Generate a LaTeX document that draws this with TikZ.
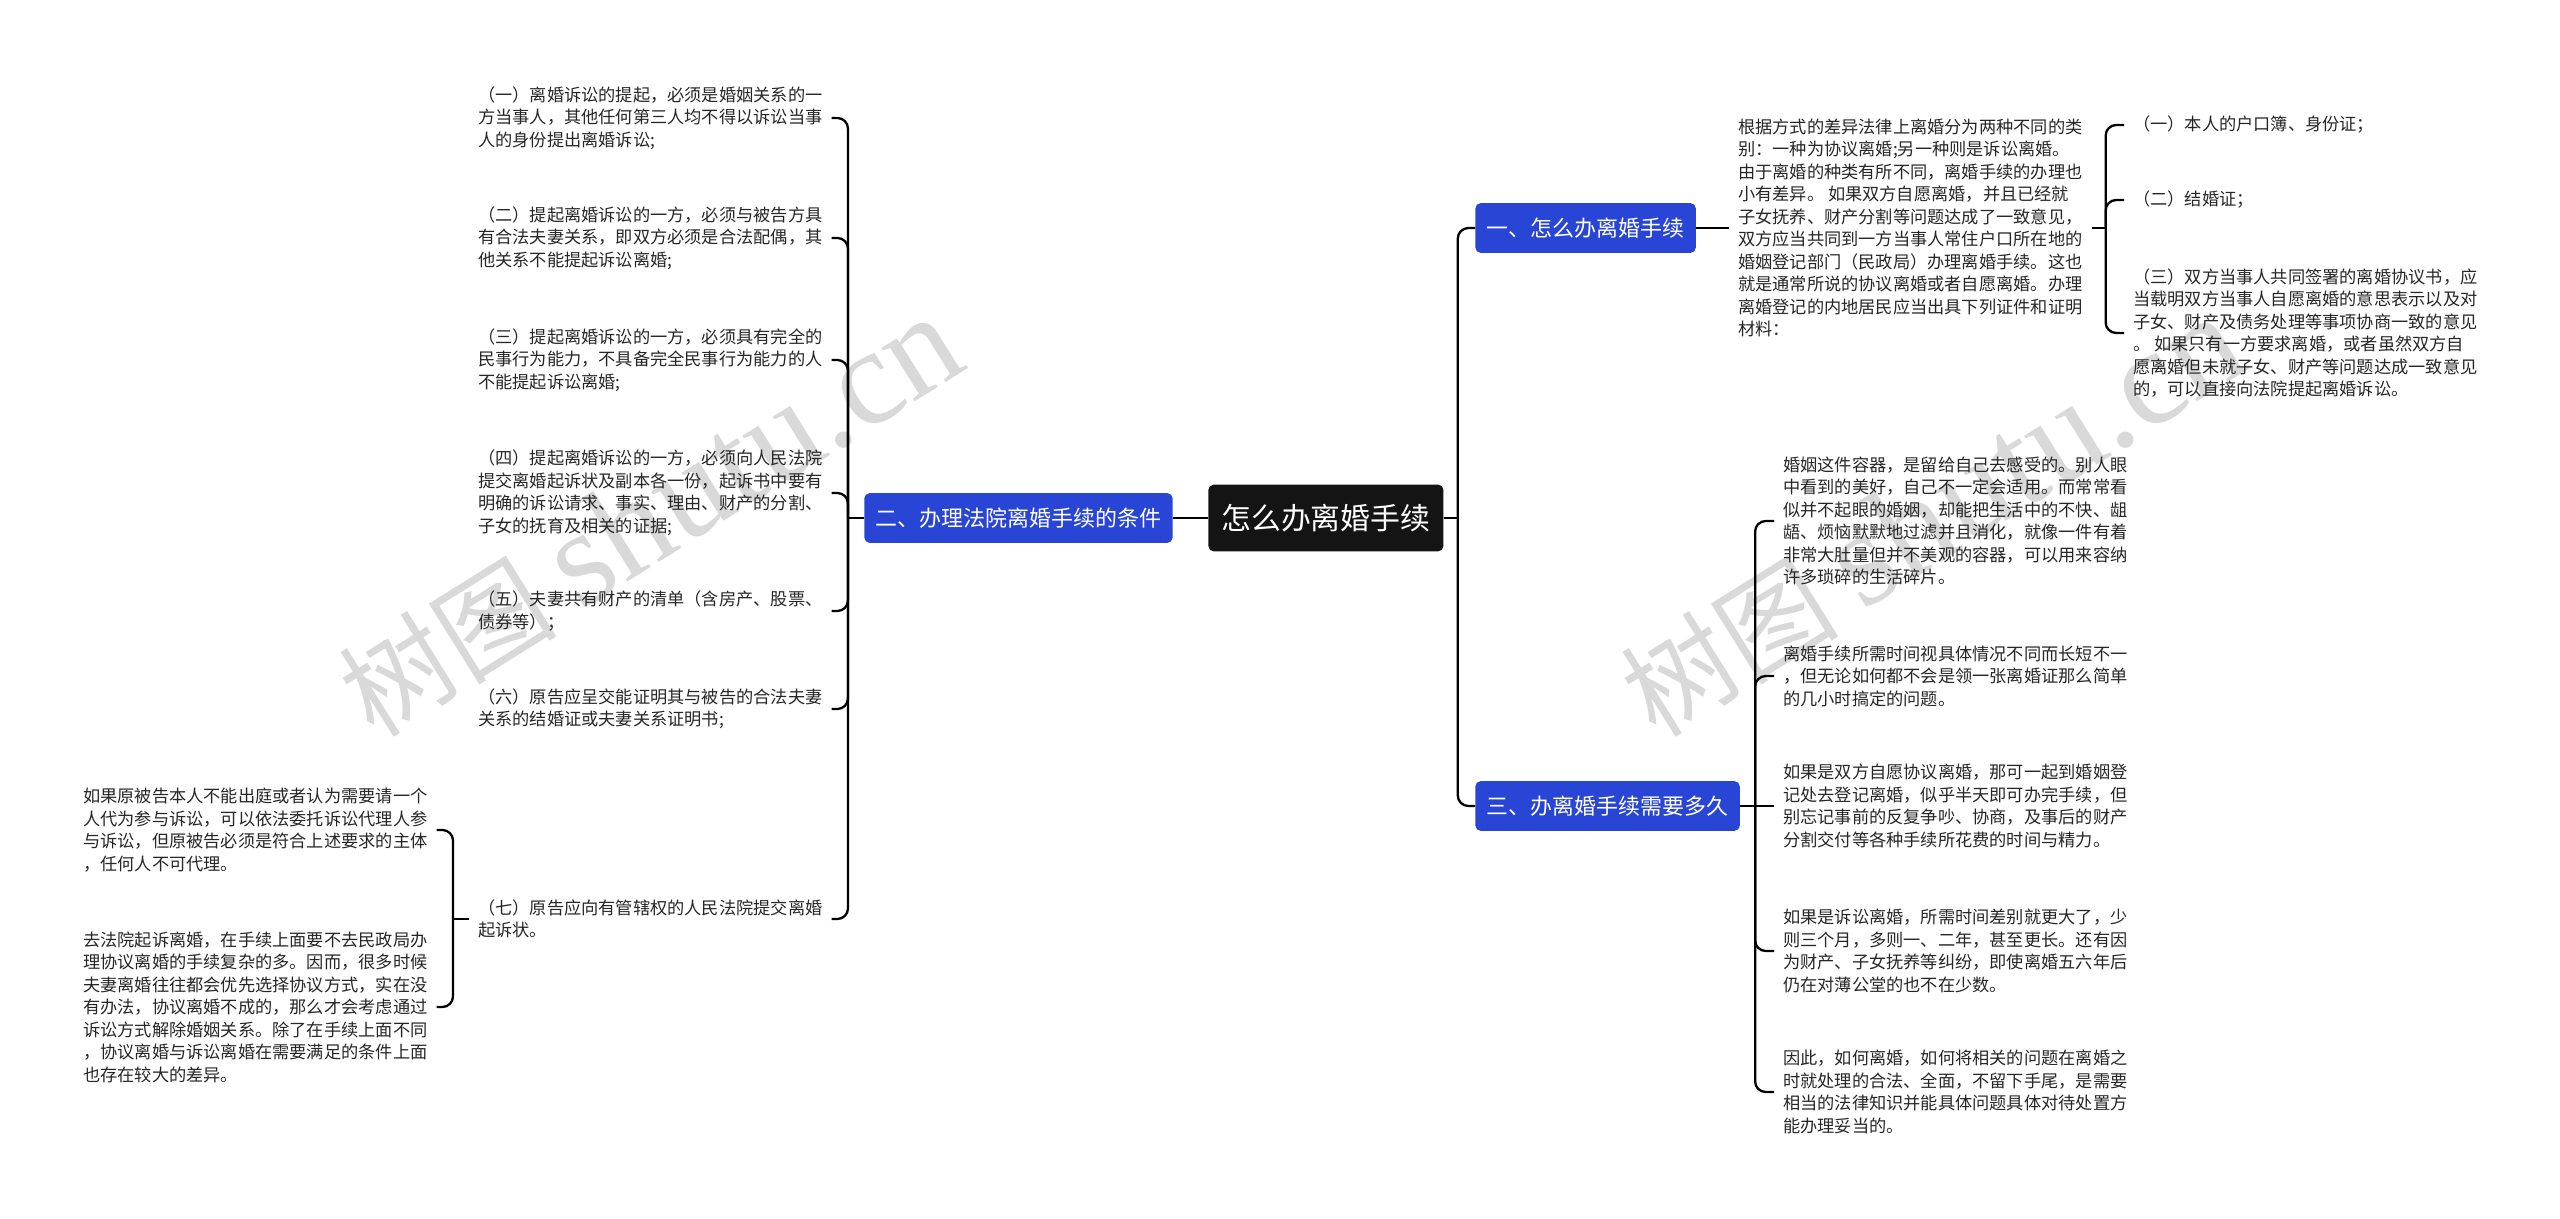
\documentclass[tikz,border=0pt]{standalone}
\usepackage{fontspec}
\setmainfont{Noto Sans CJK SC}
\newfontfamily\wmlatin{Liberation Serif}
\usepackage{tikz}
\usetikzlibrary{positioning, calc}
\definecolor{topicblue}{RGB}{41,69,214}
\definecolor{rootdark}{RGB}{20,20,20}

\begin{document}
\begin{tikzpicture}[x=0.02cm, y=-0.02cm,
    rootbox/.style={fill=rootdark, text=white, rounded corners=3pt, minimum height=38pt, inner xsep=7.4pt, font=\fontsize{17pt}{20pt}\selectfont},
    topic/.style={fill=topicblue, text=white, rounded corners=3pt, minimum height=28.3pt, inner xsep=6.5pt, font=\fontsize{12.5pt}{15pt}\selectfont},
    leaf/.style={align=left, inner xsep=5pt, inner ysep=2pt, text=black!85, font=\fontsize{9.8pt}{12.8pt}\selectfont},
    link/.style={line width=1.3pt, rounded corners=6pt},
    wm/.style={text=black!15, rotate=32, font=\fontsize{62pt}{62pt}\selectfont}
]
\useasboundingbox (0,0) rectangle (2560,1219);

% watermark
\node[wm] (wm1) at (650,517) {树图 {\wmlatin\fontsize{78pt}{78pt}\selectfont shutu.cn}};
\node[wm] (wm2) at (1932,517) {树图 {\wmlatin\fontsize{78pt}{78pt}\selectfont shutu.cn}};

% centre and topics
\node[rootbox, anchor=west] (root) at (1208,518) {怎么办离婚手续};
\node[topic, anchor=east] (b2) at (1173,518) {二、办理法院离婚手续的条件};
\node[topic, anchor=west] (b1) at (1475,228) {一、怎么办离婚手续};
\node[topic, anchor=west] (b3) at (1475,806) {三、办离婚手续需要多久};

% left leaves
\node[leaf, anchor=west] (c1) at (469,118) {（一）离婚诉讼的提起，必须是婚姻关系的一\\方当事人，其他任何第三人均不得以诉讼当事\\人的身份提出离婚诉讼;};
\node[leaf, anchor=west] (c2) at (469,238) {（二）提起离婚诉讼的一方，必须与被告方具\\有合法夫妻关系，即双方必须是合法配偶，其\\他关系不能提起诉讼离婚;};
\node[leaf, anchor=west] (c3) at (469,360) {（三）提起离婚诉讼的一方，必须具有完全的\\民事行为能力，不具备完全民事行为能力的人\\不能提起诉讼离婚;};
\node[leaf, anchor=west] (c4) at (469,493) {（四）提起离婚诉讼的一方，必须向人民法院\\提交离婚起诉状及副本各一份，起诉书中要有\\明确的诉讼请求、事实、理由、财产的分割、\\子女的抚育及相关的证据;};
\node[leaf, anchor=west] (c5) at (469,611) {（五）夫妻共有财产的清单（含房产、股票、\\债券等）；};
\node[leaf, anchor=west] (c6) at (469,709) {（六）原告应呈交能证明其与被告的合法夫妻\\关系的结婚证或夫妻关系证明书;};
\node[leaf, anchor=west] (c7) at (469,919) {（七）原告应向有管辖权的人民法院提交离婚\\起诉状。};
\node[leaf, anchor=west] (g1) at (74,830) {如果原被告本人不能出庭或者认为需要请一个\\人代为参与诉讼，可以依法委托诉讼代理人参\\与诉讼，但原被告必须是符合上述要求的主体\\，任何人不可代理。};
\node[leaf, anchor=west] (g2) at (74,1007) {去法院起诉离婚，在手续上面要不去民政局办\\理协议离婚的手续复杂的多。因而，很多时候\\夫妻离婚往往都会优先选择协议方式，实在没\\有办法，协议离婚不成的，那么才会考虑通过\\诉讼方式解除婚姻关系。除了在手续上面不同\\，协议离婚与诉讼离婚在需要满足的条件上面\\也存在较大的差异。};

% right leaves
\node[leaf, anchor=west] (t1) at (1729,228) {根据方式的差异法律上离婚分为两种不同的类\\别：一种为协议离婚;另一种则是诉讼离婚。\\由于离婚的种类有所不同，离婚手续的办理也\\小有差异。 如果双方自愿离婚，并且已经就\\子女抚养、财产分割等问题达成了一致意见，\\双方应当共同到一方当事人常住户口所在地的\\婚姻登记部门（民政局）办理离婚手续。这也\\就是通常所说的协议离婚或者自愿离婚。办理\\离婚登记的内地居民应当出具下列证件和证明\\材料：};
\node[leaf, anchor=west] (k1) at (2124,125) {（一）本人的户口簿、身份证；};
\node[leaf, anchor=west] (k2) at (2124,200) {（二）结婚证；};
\node[leaf, anchor=west] (k3) at (2124,333) {（三）双方当事人共同签署的离婚协议书，应\\当载明双方当事人自愿离婚的意思表示以及对\\子女、财产及债务处理等事项协商一致的意见\\。 如果只有一方要求离婚，或者虽然双方自\\愿离婚但未就子女、财产等问题达成一致意见\\的，可以直接向法院提起离婚诉讼。};
\node[leaf, anchor=west] (r1) at (1774,521) {婚姻这件容器，是留给自己去感受的。别人眼\\中看到的美好，自己不一定会适用。而常常看\\似并不起眼的婚姻，却能把生活中的不快、龃\\龉、烦恼默默地过滤并且消化，就像一件有着\\非常大肚量但并不美观的容器，可以用来容纳\\许多琐碎的生活碎片。};
\node[leaf, anchor=west] (r2) at (1774,676) {离婚手续所需时间视具体情况不同而长短不一\\，但无论如何都不会是领一张离婚证那么简单\\的几小时搞定的问题。};
\node[leaf, anchor=west] (r3) at (1774,806) {如果是双方自愿协议离婚，那可一起到婚姻登\\记处去登记离婚，似乎半天即可办完手续，但\\别忘记事前的反复争吵、协商，及事后的财产\\分割交付等各种手续所花费的时间与精力。};
\node[leaf, anchor=west] (r4) at (1774,951) {如果是诉讼离婚，所需时间差别就更大了，少\\则三个月，多则一、二年，甚至更长。还有因\\为财产、子女抚养等纠纷，即使离婚五六年后\\仍在对薄公堂的也不在少数。};
\node[leaf, anchor=west] (r5) at (1774,1092) {因此，如何离婚，如何将相关的问题在离婚之\\时就处理的合法、全面，不留下手尾，是需要\\相当的法律知识并能具体问题具体对待处置方\\能办理妥当的。};

% junctions
\coordinate (lj) at ([shift={(-16,0)}]b2.west);
\coordinate (gj) at ([shift={(-16,0)}]c7.west);
\coordinate (rj) at ([shift={(14,0)}]root.east);
\coordinate (kj) at ([shift={(14,0)}]t1.east);
\coordinate (sj) at ([shift={(15,0)}]b3.east);

% connectors
\draw[link] (root.west) -- (b2.east);
\draw[link] (b2.west) -- (lj);
\draw[link] (lj) |- (c1.east);
\draw[link] (lj) |- (c2.east);
\draw[link] (lj) |- (c3.east);
\draw[link] (lj) |- (c4.east);
\draw[link] (lj) |- (c5.east);
\draw[link] (lj) |- (c6.east);
\draw[link] (lj) |- (c7.east);
\draw[link] (c7.west) -- (gj);
\draw[link] (gj) |- (g1.east);
\draw[link] (gj) |- (g2.east);

\draw[link] (root.east) -- (rj);
\draw[link] (rj) |- (b1.west);
\draw[link] (rj) |- (b3.west);
\draw[link] (b1.east) -- (t1.west);
\draw[link] (t1.east) -- (kj);
\draw[link] (kj) |- (k1.west);
\draw[link] (kj) |- (k2.west);
\draw[link] (kj) |- (k3.west);
\draw[link] (b3.east) -- (sj);
\draw[link] (sj) |- (r1.west);
\draw[link] (sj) |- (r2.west);
\draw[link] (sj) -- (r3.west);
\draw[link] (sj) |- (r4.west);
\draw[link] (sj) |- (r5.west);
\end{tikzpicture}
\end{document}
